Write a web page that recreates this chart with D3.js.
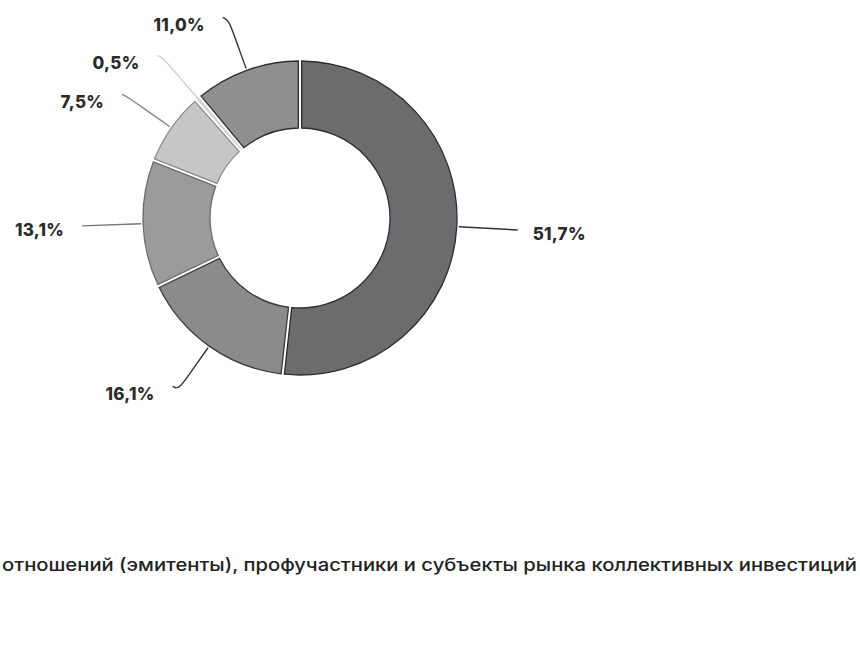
<!DOCTYPE html>
<html><head><meta charset="utf-8">
<script src="https://cdn.jsdelivr.net/npm/d3@7"></script>
<style>html,body{margin:0;padding:0;background:#fff;}svg{display:block;}</style>
</head><body>
<svg id="chart" width="860" height="651"></svg>
<script>
const categories = ["a","b","c","d","e","f"];
const values = [51.7, 16.1, 13.1, 7.5, 0.5, 11.0];
const labels = ["51,7%","16,1%","13,1%","7,5%","0,5%","11,0%"];
const footnote = "отношений (эмитенты), профучастники и субъекты рынка коллективных инвестиций";

const fills = ["#6c6c6f","#8b8b8b","#9b9b9b","#c6c6c6","#f2f2f2","#8f8f8f"];
const outlines = ["#2e2e2e","#3a3a3a","#6a6a6a","#8a8a8a","#dddddd","#2e2e2e"];
const leaderColors = ["#333","#333","#777","#888","#cfcfcf","#333"];

const svg = d3.select("#chart");
const cx = 300, cy = 218, rOuter = 157, rInner = 90;
const g = svg.append("g").attr("transform", `translate(${cx},${cy})`);

const pie = d3.pie().sort(null).value(d => d.v);
const data = categories.map((c,i)=>({c, v: values[i], label: labels[i], i}));
const arcs = pie(data);
const arc = d3.arc().innerRadius(rInner).outerRadius(rOuter).padAngle(0.018);

g.selectAll("path.slice").data(arcs).join("path")
  .attr("class","slice")
  .attr("d", arc)
  .attr("fill", d => fills[d.data.i])
  .attr("stroke", d => outlines[d.data.i])
  .attr("stroke-width", 1.3);

const pt = (a, r) => [r*Math.sin(a), -r*Math.cos(a)];
const line = d3.line().curve(d3.curveBasis);

arcs.forEach(d => {
  const a = (d.startAngle + d.endAngle)/2;
  const right = Math.sin(a) > 0;
  const horizontal = Math.abs(Math.cos(a)) < 0.15;
  const startR = d.data.v < 1 ? rInner + 2 : rOuter + 2;
  const p0 = pt(a, startR);
  let pts;
  if (horizontal) {
    pts = [p0, pt(a, 218)];
  } else {
    const p1 = pt(a, 196);
    const pe = pt(a, 210);
    const p3 = [pe[0] + (right ? 6 : -6), pe[1] - 3];
    pts = [p0, p1, pe, p3];
  }
  g.append("path").attr("d", line(pts)).attr("fill","none")
    .attr("stroke", leaderColors[d.data.i]).attr("stroke-width", 1.4);
  const end = pts[pts.length-1];
  g.append("text")
    .attr("x", end[0] + (right ? 15 : -18))
    .attr("y", end[1] + (horizontal ? 5 : 9))
    .attr("text-anchor", right ? "start" : "end")
    .attr("dominant-baseline","middle")
    .attr("font-family","Inter, 'Open Sans', sans-serif")
    .attr("font-weight", 800)
    .attr("font-size", 17)
    .attr("letter-spacing", 0.3)
    .attr("fill","#2b2b2b")
    .text(d.data.label);
});

svg.append("text")
  .attr("x", 2).attr("y", 571)
  .attr("font-family","Inter, 'Open Sans', sans-serif")
  .attr("font-weight", 500)
  .attr("font-size", 17.5)
  .attr("fill","#222")
  .attr("textLength", 855)
  .attr("lengthAdjust","spacingAndGlyphs")
  .text(footnote);
</script>
</body></html>
